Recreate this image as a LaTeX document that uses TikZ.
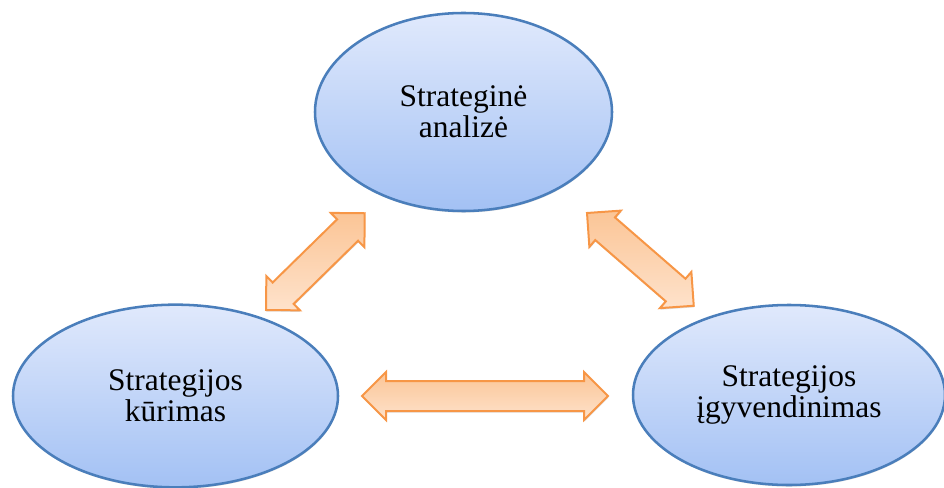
\documentclass[tikz,border=0pt]{standalone}
\usepackage{fontspec}
\setmainfont{Liberation Serif}
\usetikzlibrary{shapes.geometric,calc,shadows}

\definecolor{ellborder}{HTML}{4A7EBB}
\definecolor{elltop}{HTML}{E0E9FC}
\definecolor{ellbot}{HTML}{A3C1F4}
\definecolor{arrborder}{HTML}{F79646}
\definecolor{arrdark}{HTML}{FBC596}
\definecolor{arrlight}{HTML}{FEE2CB}

\tikzset{
  stage/.style={ellipse, draw=ellborder, line width=1.9pt,
    top color=elltop, bottom color=ellbot, inner sep=0pt, align=center,
    font=\fontsize{23.6pt}{23.4pt}\selectfont,
    drop shadow={shadow xshift=0.3pt, shadow yshift=-1.2pt, opacity=0.25}},
  blockarrow/.style={draw=arrborder, line width=1.5pt, line join=miter,
    top color=arrdark, bottom color=arrlight,
    drop shadow={shadow xshift=0.3pt, shadow yshift=-1.2pt, opacity=0.25}}
}

% Double-headed block arrow between two tip coordinates
\newcommand\twoheadblock[2]{%
  \path let \p1=($(#2)-(#1)$) in
    \pgfextra{\pgfmathsetmacro\blkang{atan2(\y1,\x1)}%
              \pgfmathsetmacro\blklen{veclen(\x1,\y1)}%
              \global\let\blkang\blkang\global\let\blklen\blklen};
  \begin{scope}[shift={(#1)}, rotate=\blkang]
    \path[blockarrow] (0pt,0pt) -- (18pt,18pt) -- (18pt,11.25pt)
      -- (\blklen pt-18pt,11.25pt) -- (\blklen pt-18pt,18pt)
      -- (\blklen pt,0pt) -- (\blklen pt-18pt,-18pt)
      -- (\blklen pt-18pt,-11.25pt) -- (18pt,-11.25pt)
      -- (18pt,-18pt) -- cycle;
  \end{scope}}

\begin{document}
\begin{tikzpicture}[x=0.75pt, y=-0.75pt]
  \useasboundingbox (0,0) rectangle (944,488);

  % the three stages
  \node[stage, minimum width=222.75pt, minimum height=148.5pt] (ana) at (463.5,112)
    {Strateginė\\analizė};
  \node[stage, minimum width=243.75pt, minimum height=137pt] (kur) at (175.5,396)
    {Strategijos\\kūrimas};
  \node[stage, minimum width=234pt, minimum height=135pt] (igy) at (789,395)
    {Strategijos\\įgyvendinimas};

  % arrow tips
  \coordinate (l1) at (266,310);
  \coordinate (l2) at (365,213);
  \coordinate (r1) at (587,213);
  \coordinate (r2) at (694,306);
  \coordinate (h1) at (362,396);
  \coordinate (h2) at (608,396);

  \twoheadblock{l1}{l2}
  \twoheadblock{r1}{r2}
  \twoheadblock{h1}{h2}
\end{tikzpicture}
\end{document}
